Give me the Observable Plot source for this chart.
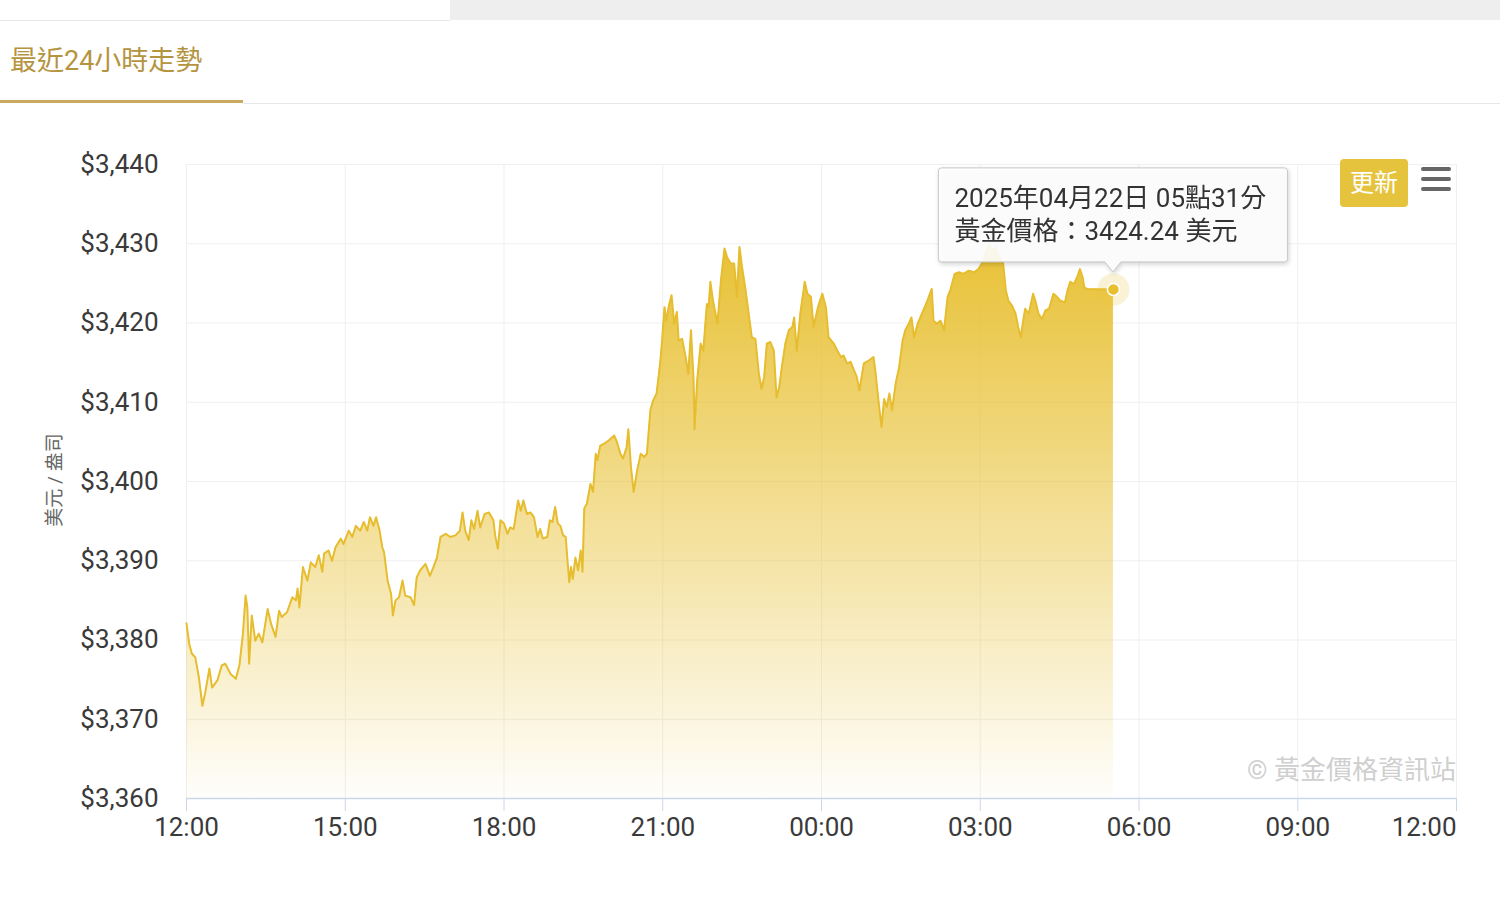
<!DOCTYPE html>
<html>
<head>
<meta charset="utf-8">
<script src="https://cdn.jsdelivr.net/npm/d3@7"></script>
<script src="https://cdn.jsdelivr.net/npm/@observablehq/plot@0.6"></script>
<style>
  html, body { margin: 0; padding: 0; background: #fff; }
  body { width: 1500px; height: 900px; overflow: hidden; position: relative;
         font-family: Roboto, "Noto Sans CJK TC", "Noto Sans", sans-serif; }
  .abs { position: absolute; }
  #chart { position: absolute; left: 0; top: 104px; }
</style>
</head>
<body>
<div class="abs" style="left:450px;top:0;width:1050px;height:20px;background:#eeeeee;"></div>
<div class="abs" style="left:0;top:20px;width:450px;height:1px;background:#e8e8e8;"></div>
<div class="abs" id="title" style="left:10px;top:43px;font-size:27px;color:#b5943f;line-height:36px;white-space:nowrap;"></div>
<div class="abs" style="left:0;top:100px;width:243px;height:3px;background:#c9aa5e;"></div>
<div class="abs" style="left:243px;top:103px;width:1257px;height:1px;background:#e6e6e6;"></div>
<div id="chart"></div>
<div class="abs" id="ytitle" style="left:52px;top:480px;transform:translate(-50%,-50%) rotate(-90deg);font-size:19px;color:#666;white-space:nowrap;"></div>
<div class="abs" id="credit" style="right:44px;top:752px;font-size:26px;color:#cfcfcf;white-space:nowrap;line-height:36px;"></div>
<div class="abs" id="btn" style="left:1340px;top:159px;width:68px;height:48px;background:#e6c33d;border-radius:4px;color:#fff;font-size:24px;line-height:48px;text-align:center;"></div>
<div class="abs" style="left:1421px;top:167px;width:30px;height:4px;background:#666;border-radius:2px;"></div>
<div class="abs" style="left:1421px;top:177px;width:30px;height:4px;background:#666;border-radius:2px;"></div>
<div class="abs" style="left:1421px;top:187px;width:30px;height:4px;background:#666;border-radius:2px;"></div>
<script>
// ---- texts ----
const titleText = "最近24小時走勢";
const yTitle = "美元 / 盎司";
const creditText = "© 黃金價格資訊站";
const buttonText = "更新";
const tooltipLine1 = "2025年04月22日 05點31分";
const tooltipLine2 = "黃金價格：3424.24 美元";

// ---- data: minutes after 2025-04-21 12:00 and gold price (USD/oz) ----
const minutes = [0,3,6,10,14,18,21,26,29,35,40,44,50,56,60,64,67,69,71,74,78,82,86,92,96,101,105,108,114,120,
124,126,128,132,137,141,146,150,154,156,161,165,169,175,178,184,188,192,197,201,205,208,212,215,219,222,224,228,232,234,
237,241,245,248,254,258,261,265,271,276,280,284,288,294,299,305,310,313,316,320,323,326,330,333,338,343,348,350,353,356,
360,364,367,371,376,379,382,386,390,394,398,401,404,409,412,415,418,421,424,427,430,432,434,436,438,441,444,447,449,451,
454,458,461,464,466,469,474,479,485,488,492,495,499,501,504,507,511,515,519,522,526,529,533,537,539,542,544,547,550,553,
556,558,562,566,569,572,575,576,579,583,586,590,592,594,597,602,606,610,613,617,621,624,627,630,634,638,641,645,649,652,
655,658,662,666,669,672,675,679,683,687,689,692,696,701,704,708,711,716,721,725,728,734,738,742,745,749,753,757,760,763,
768,774,779,781,785,788,791,794,797,800,804,808,812,815,819,822,825,829,834,840,845,847,851,855,859,863,866,871,876,881,
887,893,898,902,906,910,914,917,922,926,929,932,936,940,943,946,949,951,955,960,963,966,970,974,978,983,987,991,996,999,
1002,1006,1010,1013,1016,1018,1021,1051];
const prices = [3382.1,3379.6,3378.3,3377.8,3375.3,3371.7,3373.2,3376.4,3374.0,3374.9,3376.8,3377.0,3375.7,3375.1,3376.8,3380.8,3385.6,3384.1,3377.0,3383.1,3379.9,3380.8,3379.7,3383.9,3382.0,3380.4,3383.7,3382.9,3383.5,3385.4,
3385.0,3386.5,3384.1,3389.2,3387.5,3389.8,3389.2,3390.7,3388.6,3390.9,3391.3,3390.0,3391.7,3392.8,3392.1,3393.8,3393.0,3394.4,3393.8,3394.9,3393.8,3395.5,3394.4,3395.5,3393.8,3391.7,3391.1,3387.5,3385.8,3383.1,
3385.0,3385.4,3387.5,3385.6,3385.4,3384.4,3387.9,3388.8,3389.6,3388.1,3389.2,3390.4,3393.0,3393.4,3393.0,3393.2,3393.8,3396.1,3393.8,3392.6,3395.1,3394.0,3396.3,3394.2,3395.9,3396.1,3395.1,3393.2,3391.5,3395.1,
3394.7,3393.4,3394.2,3394.0,3397.6,3396.3,3397.6,3395.9,3396.1,3395.5,3393.0,3394.0,3392.8,3393.0,3395.1,3394.9,3396.8,3394.7,3394.4,3393.2,3393.0,3390.0,3387.3,3389.2,3387.7,3390.4,3388.8,3391.3,3388.6,3396.6,
3397.2,3399.7,3398.7,3403.5,3402.7,3404.5,3404.8,3405.2,3405.8,3405.0,3403.5,3402.9,3404.3,3406.6,3401.8,3398.7,3401.4,3403.5,3403.1,3403.5,3409.0,3410.2,3411.1,3414.9,3417.4,3422.0,3420.3,3422.2,3423.5,3419.9,
3421.4,3417.8,3418.0,3415.7,3413.6,3419.1,3412.7,3406.6,3412.7,3417.4,3416.5,3422.4,3422.0,3425.2,3422.8,3419.9,3425.4,3429.4,3428.3,3427.5,3427.5,3423.3,3429.6,3427.0,3424.1,3420.7,3418.2,3418.0,3413.6,3411.7,
3413.2,3417.4,3417.6,3416.5,3410.6,3411.9,3414.4,3417.4,3419.1,3419.5,3420.7,3416.5,3421.2,3425.2,3423.7,3423.3,3419.5,3422.0,3423.7,3422.0,3418.2,3417.4,3416.5,3415.7,3415.9,3414.9,3415.1,3414.0,3413.2,3411.5,
3414.9,3415.3,3415.7,3414.0,3409.8,3406.9,3410.4,3409.4,3411.1,3409.0,3412.3,3414.4,3417.8,3419.1,3419.9,3420.7,3418.2,3419.9,3421.2,3422.8,3424.3,3420.3,3419.9,3420.3,3419.1,3423.3,3424.1,3426.2,3426.4,3426.2,
3426.6,3426.4,3426.8,3427.5,3428.7,3430.0,3429.1,3429.6,3428.3,3427.5,3424.1,3422.8,3422.2,3421.2,3419.5,3418.2,3420.5,3421.8,3421.2,3423.7,3422.6,3421.2,3420.5,3421.6,3421.8,3423.7,3423.3,3422.8,3422.6,3424.1,
3425.2,3424.9,3425.8,3426.8,3425.8,3424.5,3424.3,3424.24];

const yTicks = [3360,3370,3380,3390,3400,3410,3420,3430,3440];
const xTickHours = [0,3,6,9,12,15,18,21,24];

const base = Date.UTC(2025, 3, 21, 12, 0);
const data = minutes.map((m, i) => ({ date: new Date(base + m * 60000), price: prices[i] }));
const xTicks = xTickHours.map(h => new Date(base + h * 3600000));
const xTicksInner = xTicks.slice(0, -1);
const xTickLast = xTicks.slice(-1);
const last = [data[data.length - 1]];

document.getElementById("title").textContent = titleText;
document.getElementById("ytitle").textContent = yTitle;
document.getElementById("credit").textContent = creditText;
document.getElementById("btn").textContent = buttonText;

const fmtTime = d3.utcFormat("%H:%M");
const fmtPrice = d => "$" + d3.format(",")(d);

const plot = Plot.plot({
  width: 1500,
  height: 796,
  marginTop: 60,
  marginBottom: 102,
  marginLeft: 186,
  marginRight: 44,
  style: { fontFamily: 'Roboto, "Noto Sans CJK TC", sans-serif', fontSize: "26px", color: "#3a3a3a", background: "transparent", overflow: "visible" },
  x: { type: "utc", domain: [xTicks[0], xTicks[xTicks.length - 1]], label: null },
  y: { domain: [3360, 3440], label: null },
  marks: [
    Plot.gridX(xTicks, { stroke: "#efefef", strokeOpacity: 1 }),
    Plot.gridY(yTicks, { stroke: "#efefef", strokeOpacity: 1 }),
    Plot.areaY(data, { x: "date", y1: 3360, y2: "price", fill: "url(#goldGrad)" }),
    Plot.lineY(data, { x: "date", y: "price", stroke: "#e6bd2f", strokeWidth: 2 }),
    Plot.ruleY([3360], { stroke: "#ccd6eb", strokeWidth: 1.5 }),
    Plot.axisY(yTicks, { tickSize: 0, tickPadding: 28, tickFormat: fmtPrice, label: null }),
    Plot.axisX(xTicksInner, { tickSize: 13, stroke: "#ccd6eb", strokeOpacity: 1, tickPadding: 6, tickFormat: fmtTime, label: null }),
    Plot.axisX(xTickLast, { tickSize: 13, stroke: "#ccd6eb", strokeOpacity: 1, tickPadding: 6, tickFormat: fmtTime, textAnchor: "end", label: null }),
    Plot.dot(last, { x: "date", y: "price", r: 16, fill: "#e8c33c", fillOpacity: 0.22 }),
    Plot.dot(last, { x: "date", y: "price", r: 6, fill: "#e8bf2c", stroke: "#fff", strokeWidth: 1.5 })
  ]
});

// gradient definition
const svg = d3.select(plot);
const defs = svg.insert("defs", ":first-child");
const grad = defs.append("linearGradient").attr("id", "goldGrad").attr("x1", 0).attr("y1", 0).attr("x2", 0).attr("y2", 1);
grad.append("stop").attr("offset", "0%").attr("stop-color", "#e8c135").attr("stop-opacity", 1);
grad.append("stop").attr("offset", "100%").attr("stop-color", "#e8c135").attr("stop-opacity", 0.02);

// tooltip anchored to last point via the plot's scales
const sx = plot.scale("x"), sy = plot.scale("y");
const px = sx.apply(last[0].date), py = sy.apply(last[0].price);
const bw = 349, bh = 94, gap = 27, tip = 17, r = 3;
const L = px - bw / 2, R = px + bw / 2, B = py - gap, T = B - bh;
const path = `M${L + r},${T} H${R - r} Q${R},${T} ${R},${T + r} V${B - r} Q${R},${B} ${R - r},${B} H${px + 8} L${px},${py - tip} L${px - 8},${B} H${L + r} Q${L},${B} ${L},${B - r} V${T + r} Q${L},${T} ${L + r},${T} Z`;
const g = svg.append("g").style("filter", "drop-shadow(1px 2px 2px rgba(0,0,0,0.18))");
g.append("path").attr("d", path).attr("fill", "rgba(255,255,255,0.9)").attr("stroke", "#c8c8c8").attr("stroke-width", 1);
const t = g.append("text").attr("font-size", 26).attr("fill", "#333").attr("text-anchor", "start");
t.append("tspan").attr("x", L + 16).attr("y", T + 39).text(tooltipLine1);
t.append("tspan").attr("x", L + 16).attr("y", T + 72).text(tooltipLine2);

document.getElementById("chart").appendChild(plot);
</script>
</body>
</html>
